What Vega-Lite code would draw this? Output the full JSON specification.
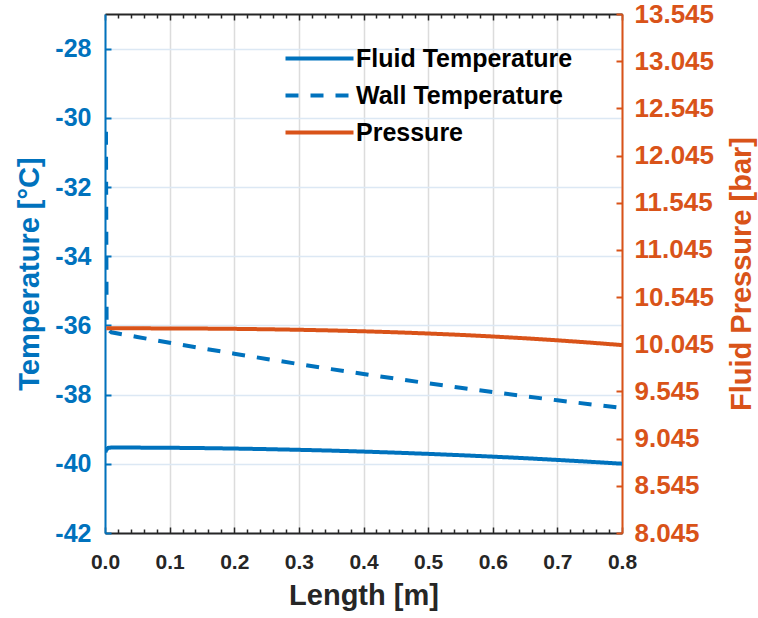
{
  "$schema": "https://vega.github.io/schema/vega-lite/v6.json",
  "autosize": {"type": "none"},
  "width": 517,
  "height": 519,
  "padding": {"left": 105, "top": 14, "right": 136, "bottom": 85},
  "background": "white",
  "config": {
    "font": "Liberation Sans",
    "view": {"stroke": null},
    "legend": {
      "labelFont": "Liberation Sans",
      "labelFontSize": 25,
      "labelFontWeight": "bold",
      "labelColor": "#000000",
      "symbolType": "M-2.72,0H2.72",
      "symbolSize": 625,
      "symbolStrokeWidth": 4,
      "labelOffset": 22,
      "rowPadding": 9,
      "padding": 0,
      "labelLimit": 400
    }
  },
  "data": {
    "values": [
      {"x": 0.0005, "value": -39.66, "series": "Fluid Temperature"},
      {"x": 0.002, "value": -39.6, "series": "Fluid Temperature"},
      {"x": 0.005, "value": -39.54, "series": "Fluid Temperature"},
      {"x": 0.01, "value": -39.53, "series": "Fluid Temperature"},
      {"x": 0.05, "value": -39.532, "series": "Fluid Temperature"},
      {"x": 0.1, "value": -39.537, "series": "Fluid Temperature"},
      {"x": 0.15, "value": -39.546, "series": "Fluid Temperature"},
      {"x": 0.2, "value": -39.559, "series": "Fluid Temperature"},
      {"x": 0.25, "value": -39.576, "series": "Fluid Temperature"},
      {"x": 0.3, "value": -39.596, "series": "Fluid Temperature"},
      {"x": 0.35, "value": -39.619, "series": "Fluid Temperature"},
      {"x": 0.4, "value": -39.647, "series": "Fluid Temperature"},
      {"x": 0.45, "value": -39.678, "series": "Fluid Temperature"},
      {"x": 0.5, "value": -39.713, "series": "Fluid Temperature"},
      {"x": 0.55, "value": -39.751, "series": "Fluid Temperature"},
      {"x": 0.6, "value": -39.793, "series": "Fluid Temperature"},
      {"x": 0.65, "value": -39.838, "series": "Fluid Temperature"},
      {"x": 0.7, "value": -39.888, "series": "Fluid Temperature"},
      {"x": 0.75, "value": -39.941, "series": "Fluid Temperature"},
      {"x": 0.8, "value": -39.997, "series": "Fluid Temperature"},
      {"x": 0.0015, "value": -30.4, "series": "Wall Temperature"},
      {"x": 0.0025, "value": -36.0, "series": "Wall Temperature"},
      {"x": 0.005, "value": -36.12, "series": "Wall Temperature"},
      {"x": 0.01, "value": -36.2, "series": "Wall Temperature"},
      {"x": 0.05, "value": -36.335, "series": "Wall Temperature"},
      {"x": 0.1, "value": -36.5, "series": "Wall Temperature"},
      {"x": 0.15, "value": -36.66, "series": "Wall Temperature"},
      {"x": 0.2, "value": -36.817, "series": "Wall Temperature"},
      {"x": 0.25, "value": -36.97, "series": "Wall Temperature"},
      {"x": 0.3, "value": -37.119, "series": "Wall Temperature"},
      {"x": 0.35, "value": -37.264, "series": "Wall Temperature"},
      {"x": 0.4, "value": -37.404, "series": "Wall Temperature"},
      {"x": 0.45, "value": -37.541, "series": "Wall Temperature"},
      {"x": 0.5, "value": -37.674, "series": "Wall Temperature"},
      {"x": 0.55, "value": -37.803, "series": "Wall Temperature"},
      {"x": 0.6, "value": -37.928, "series": "Wall Temperature"},
      {"x": 0.65, "value": -38.048, "series": "Wall Temperature"},
      {"x": 0.7, "value": -38.165, "series": "Wall Temperature"},
      {"x": 0.75, "value": -38.278, "series": "Wall Temperature"},
      {"x": 0.8, "value": -38.387, "series": "Wall Temperature"},
      {"x": 0.002, "value": 10.214, "series": "Pressure"},
      {"x": 0.05, "value": 10.2138, "series": "Pressure"},
      {"x": 0.1, "value": 10.213, "series": "Pressure"},
      {"x": 0.15, "value": 10.2113, "series": "Pressure"},
      {"x": 0.2, "value": 10.2085, "series": "Pressure"},
      {"x": 0.25, "value": 10.2043, "series": "Pressure"},
      {"x": 0.3, "value": 10.1987, "series": "Pressure"},
      {"x": 0.35, "value": 10.1915, "series": "Pressure"},
      {"x": 0.4, "value": 10.1826, "series": "Pressure"},
      {"x": 0.45, "value": 10.1719, "series": "Pressure"},
      {"x": 0.5, "value": 10.1592, "series": "Pressure"},
      {"x": 0.55, "value": 10.1445, "series": "Pressure"},
      {"x": 0.6, "value": 10.1275, "series": "Pressure"},
      {"x": 0.65, "value": 10.1084, "series": "Pressure"},
      {"x": 0.7, "value": 10.0869, "series": "Pressure"},
      {"x": 0.75, "value": 10.063, "series": "Pressure"},
      {"x": 0.8, "value": 10.0366, "series": "Pressure"}
    ]
  },
  "layer": [
    {
      "transform": [{"filter": "datum.series != 'Pressure'"}],
      "mark": {"type": "line", "strokeWidth": 4, "strokeCap": "butt", "clip": true},
      "encoding": {
        "x": {
          "field": "x", "type": "quantitative",
          "scale": {"domain": [0, 0.8], "nice": false, "zero": false},
          "axis": {
            "orient": "bottom",
            "values": [0, 0.1, 0.2, 0.3, 0.4, 0.5, 0.6, 0.7, 0.8],
            "format": ".1f",
            "title": "Length [m]",
            "titleFontSize": 29, "titleFontWeight": "bold", "titleColor": "#262626", "titlePadding": 9,
            "labelFontSize": 21, "labelFontWeight": "bold", "labelColor": "#262626", "labelPadding": 24,
            "labelFlush": false,
            "domainColor": "#262626", "domainWidth": 2,
            "tickColor": "#262626", "tickSize": -6, "tickWidth": 1.5,
            "grid": true, "gridColor": "#dcdcdc", "gridWidth": 1.5
          }
        },
        "y": {
          "field": "value", "type": "quantitative",
          "scale": {"domain": [-42, -27], "nice": false, "zero": false},
          "axis": {
            "orient": "left",
            "values": [-42, -40, -38, -36, -34, -32, -30, -28],
            "labelExpr": "'' + datum.value",
            "title": "Temperature [°C]",
            "titleFontSize": 29, "titleFontWeight": "bold", "titleColor": "#0072BD", "titlePadding": 10,
            "labelFontSize": 25, "labelFontWeight": "bold", "labelColor": "#0072BD", "labelPadding": 20,
            "labelFlush": false,
            "domainColor": "#0072BD", "domainWidth": 2,
            "tickColor": "#0072BD", "tickSize": -6, "tickWidth": 2,
            "grid": true, "gridColor": "#dce8f4", "gridWidth": 1.5
          }
        },
        "color": {
          "field": "series", "type": "nominal",
          "scale": {"domain": ["Fluid Temperature", "Wall Temperature", "Pressure"], "range": ["#0072BD", "#0072BD", "#D95319"]},
          "legend": {"orient": "none", "legendX": 200, "legendY": 30, "title": null, "rowPadding": 9}
        },
        "strokeDash": {
          "field": "series", "type": "nominal",
          "scale": {"domain": ["Fluid Temperature", "Wall Temperature", "Pressure"], "range": [[1, 0], [13, 12], [1, 0]]},
          "legend": {"orient": "none", "legendX": 200, "legendY": 30, "title": null, "rowPadding": 9}
        }
      }
    },
    {
      "transform": [{"filter": "datum.series == 'Pressure'"}],
      "mark": {"type": "line", "strokeWidth": 4, "strokeCap": "butt", "clip": true},
      "encoding": {
        "x": {
          "field": "x", "type": "quantitative",
          "scale": {"domain": [0, 0.8], "nice": false, "zero": false},
          "axis": {
            "orient": "top",
            "values": [0, 0.1, 0.2, 0.3, 0.4, 0.5, 0.6, 0.7, 0.8],
            "labels": false, "title": null, "grid": false,
            "domainColor": "#262626", "domainWidth": 2,
            "tickColor": "#262626", "tickSize": -6, "tickWidth": 1.5
          }
        },
        "y": {
          "field": "value", "type": "quantitative",
          "scale": {"domain": [8.045, 13.545], "nice": false, "zero": false},
          "axis": {
            "orient": "right",
            "values": [8.045, 8.545, 9.045, 9.545, 10.045, 10.545, 11.045, 11.545, 12.045, 12.545, 13.045, 13.545],
            "format": ".3f",
            "title": "Fluid Pressure [bar]",
            "titleAngle": 270,
            "titleBaseline": "top",
            "titleFontSize": 29, "titleFontWeight": "bold", "titleColor": "#D95319", "titlePadding": 14,
            "labelFontSize": 26, "labelFontWeight": "bold", "labelColor": "#D95319", "labelPadding": 18,
            "labelFlush": false,
            "domainColor": "#D95319", "domainWidth": 2,
            "tickColor": "#D95319", "tickSize": -6, "tickWidth": 2,
            "grid": false
          }
        },
        "color": {
          "field": "series", "type": "nominal",
          "scale": {"domain": ["Fluid Temperature", "Wall Temperature", "Pressure"], "range": ["#0072BD", "#0072BD", "#D95319"]},
          "legend": {"orient": "none", "legendX": 200, "legendY": 30, "title": null, "rowPadding": 9}
        },
        "strokeDash": {
          "field": "series", "type": "nominal",
          "scale": {"domain": ["Fluid Temperature", "Wall Temperature", "Pressure"], "range": [[1, 0], [13, 12], [1, 0]]},
          "legend": {"orient": "none", "legendX": 200, "legendY": 30, "title": null, "rowPadding": 9}
        }
      }
    },
    {
      "transform": [{"filter": "datum.series == 'Fluid Temperature'"}],
      "mark": {"type": "line", "opacity": 0, "clip": true},
      "encoding": {
        "x": {
          "field": "x", "type": "quantitative",
          "scale": {"domain": [0, 0.8], "nice": false, "zero": false},
          "axis": {
            "orient": "bottom",
            "values": [0.02, 0.04, 0.06, 0.08, 0.12, 0.14, 0.16, 0.18, 0.22, 0.24, 0.26, 0.28, 0.32, 0.34, 0.36, 0.38, 0.42, 0.44, 0.46, 0.48, 0.52, 0.54, 0.56, 0.58, 0.62, 0.64, 0.66, 0.68, 0.72, 0.74, 0.76, 0.78],
            "labels": false, "title": null, "grid": false, "domain": false,
            "tickColor": "#262626", "tickSize": -4, "tickWidth": 1.5
          }
        },
        "y": {
          "field": "value", "type": "quantitative",
          "scale": {"domain": [-42, -27], "nice": false, "zero": false},
          "axis": null
        }
      }
    },
    {
      "transform": [{"filter": "datum.series == 'Fluid Temperature'"}],
      "mark": {"type": "line", "opacity": 0, "clip": true},
      "encoding": {
        "x": {
          "field": "x", "type": "quantitative",
          "scale": {"domain": [0, 0.8], "nice": false, "zero": false},
          "axis": {
            "orient": "top",
            "values": [0.02, 0.04, 0.06, 0.08, 0.12, 0.14, 0.16, 0.18, 0.22, 0.24, 0.26, 0.28, 0.32, 0.34, 0.36, 0.38, 0.42, 0.44, 0.46, 0.48, 0.52, 0.54, 0.56, 0.58, 0.62, 0.64, 0.66, 0.68, 0.72, 0.74, 0.76, 0.78],
            "labels": false, "title": null, "grid": false, "domain": false,
            "tickColor": "#262626", "tickSize": -4, "tickWidth": 1.5
          }
        },
        "y": {
          "field": "value", "type": "quantitative",
          "scale": {"domain": [-42, -27], "nice": false, "zero": false},
          "axis": null
        }
      }
    }
  ],
  "resolve": {"scale": {"y": "independent"}, "axis": {"x": "independent", "y": "independent"}}
}
